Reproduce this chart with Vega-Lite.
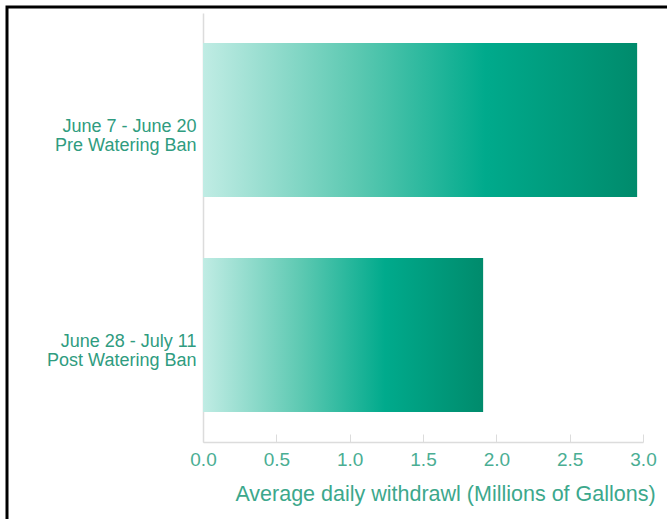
{
  "$schema": "https://vega.github.io/schema/vega-lite/v6.json",
  "width": 670,
  "height": 520,
  "autosize": {"type": "none"},
  "padding": {"left": 7, "top": 7, "right": 0, "bottom": 0},
  "background": "white",
  "config": {
    "view": {"stroke": "black", "strokeWidth": 3},
    "font": "Liberation Sans"
  },
  "data": {
    "values": [
      {"period": "June 7 - June 20|Pre Watering Ban", "withdrawal": 2.96},
      {"period": "June 28 - July 11|Post  Watering Ban", "withdrawal": 1.91}
    ]
  },
  "mark": {
    "type": "bar",
    "color": {
      "gradient": "linear",
      "x1": 0, "y1": 0, "x2": 1, "y2": 0,
      "stops": [
        {"offset": 0, "color": "#c0ece4"},
        {"offset": 0.35, "color": "#5dc9b2"},
        {"offset": 0.65, "color": "#00aa8c"},
        {"offset": 1, "color": "#008b6c"}
      ]
    }
  },
  "encoding": {
    "y": {
      "field": "period",
      "type": "nominal",
      "sort": null,
      "scale": {"range": [6, 435], "paddingInner": 0.284, "paddingOuter": 0.14},
      "axis": {
        "title": null,
        "orient": "left",
        "offset": -196,
        "ticks": false,
        "domainColor": "#dcdcdc",
        "domainWidth": 1.5,
        "labelExpr": "split(datum.label, '|')",
        "labelFontSize": 18,
        "labelColor": "#2f9c80",
        "labelLineHeight": 19,
        "labelPadding": 7,
        "labelOffset": 7,
        "labelLimit": 300
      }
    },
    "x": {
      "field": "withdrawal",
      "type": "quantitative",
      "scale": {"domain": [0, 3], "range": [196, 636], "nice": false},
      "axis": {
        "title": "Average daily withdrawl (Millions of Gallons)",
        "values": [0, 0.5, 1, 1.5, 2, 2.5, 3],
        "format": ".1f",
        "offset": -85,
        "grid": false,
        "domainColor": "#dcdcdc",
        "domainWidth": 1.5,
        "tickColor": "#dcdcdc",
        "tickSize": -8,
        "labelPadding": 16,
        "labelFontSize": 19,
        "labelColor": "#4aae93",
        "labelFlush": false,
        "labelOverlap": false,
        "titleFontSize": 21.5,
        "titleFontWeight": "normal",
        "titleColor": "#3ca88c",
        "titleX": 438,
        "titleY": 58,
        "titleBaseline": "alphabetic"
      }
    }
  }
}
